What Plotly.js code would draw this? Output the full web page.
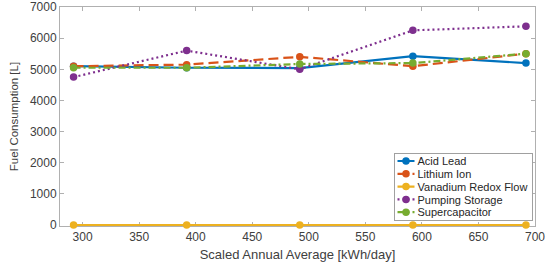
<!DOCTYPE html>
<html>
<head>
<meta charset="utf-8">
<script src="https://cdn.plot.ly/plotly-3.0.1.min.js"></script>
<style>html,body{margin:0;padding:0;background:#fff;}#chart{width:550px;height:274px;}</style>
</head>
<body>
<div id="chart"></div>
<script>
var xValues = [292, 392, 492, 592, 692];
var seriesNames = ["Acid Lead", "Lithium Ion", "Vanadium Redox Flow", "Pumping Storage", "Supercapacitor"];
var acidLead = [5100, 5050, 5040, 5420, 5200];
var lithiumIon = [5100, 5150, 5400, 5100, 5500];
var vanadiumRedoxFlow = [0, 0, 0, 0, 0];
var pumpingStorage = [4750, 5600, 5000, 6250, 6380];
var supercapacitor = [5050, 5050, 5170, 5200, 5500];
var xTickVals = [300, 350, 400, 450, 500, 550, 600, 650, 700];
var yTickVals = [0, 1000, 2000, 3000, 4000, 5000, 6000, 7000];

var colors = ["#0072BD", "#D95319", "#EDB120", "#7E2F8E", "#77AC30"];
var dashes = ["solid", "10px,5px", "solid", "2px,3px", "7px,3px,2px,3px"];
var allSeries = [acidLead, lithiumIon, vanadiumRedoxFlow, pumpingStorage, supercapacitor];

var traces = allSeries.map(function(ys, i) {
  return {
    x: xValues, y: ys, name: seriesNames[i], type: "scatter", mode: "lines+markers",
    line: {color: colors[i], width: 2.2, dash: dashes[i]},
    marker: {color: colors[i], size: 7.5},
    cliponaxis: false
  };
});

var FONT = "Liberation Sans, Arial, sans-serif";
var axisCommon = {
  showline: true, linecolor: "#b0b0b0", linewidth: 1, mirror: "ticks",
  ticks: "inside", ticklen: 4, tickcolor: "#b0b0b0",
  showgrid: false, zeroline: false, layer: "below traces",
  tickfont: {family: FONT, size: 12, color: "#404040"}
};

var layout = {
  width: 550, height: 274,
  margin: {l: 60, r: 15, t: 7, b: 48},
  paper_bgcolor: "#fff", plot_bgcolor: "#fff",
  showlegend: true,
  legend: {
    x: 0.66, y: 0.333, xanchor: "left", yanchor: "top",
    bgcolor: "#fff", bordercolor: "#a0a0a0", borderwidth: 1,
    font: {family: FONT, size: 11, color: "#262626"},
    tracegroupgap: 0, itemwidth: 30
  },
  xaxis: Object.assign({}, axisCommon, {
    range: [280, 700], tickvals: xTickVals,
    title: {text: "Scaled Annual Average [kWh/day]", standoff: 6,
      font: {family: FONT, size: 13, color: "#404040"}}
  }),
  yaxis: Object.assign({}, axisCommon, {
    range: [-30, 7000], tickvals: yTickVals,
    title: {text: "Fuel Consumption [L]", standoff: 8,
      font: {family: FONT, size: 11.5, color: "#404040"}}
  })
};

Plotly.newPlot("chart", traces, layout, {displayModeBar: false, staticPlot: true}).then(function(gd) {
  // compact the legend to match the reference's tight MATLAB-style legend
  var leg = gd.querySelector(".legend");
  if (!leg) return;
  var items = leg.querySelectorAll("g.traces");
  var maxRight = 0;
  items.forEach(function(it, i) {
    it.setAttribute("transform", "translate(0," + (8.5 + 12.8 * i) + ")");
    var ln = it.querySelectorAll("path.js-line");
    ln.forEach(function(p) { p.setAttribute("d", "M4,0h17"); });
    var pts = it.querySelectorAll(".legendpoints path");
    pts.forEach(function(p) { p.setAttribute("transform", "translate(12.5,0)"); });
    var tx = it.querySelector("text.legendtext");
    if (tx) {
      tx.setAttribute("x", 24);
      var bb = tx.getBBox();
      maxRight = Math.max(maxRight, bb.x + bb.width);
    }
  });
  var bg = leg.querySelector("rect.bg");
  if (bg) {
    bg.setAttribute("height", 67);
    bg.setAttribute("width", Math.round(maxRight + 4));
  }
  leg.setAttribute("transform", "translate(393.5,152.5)");
});
</script>
</body>
</html>
